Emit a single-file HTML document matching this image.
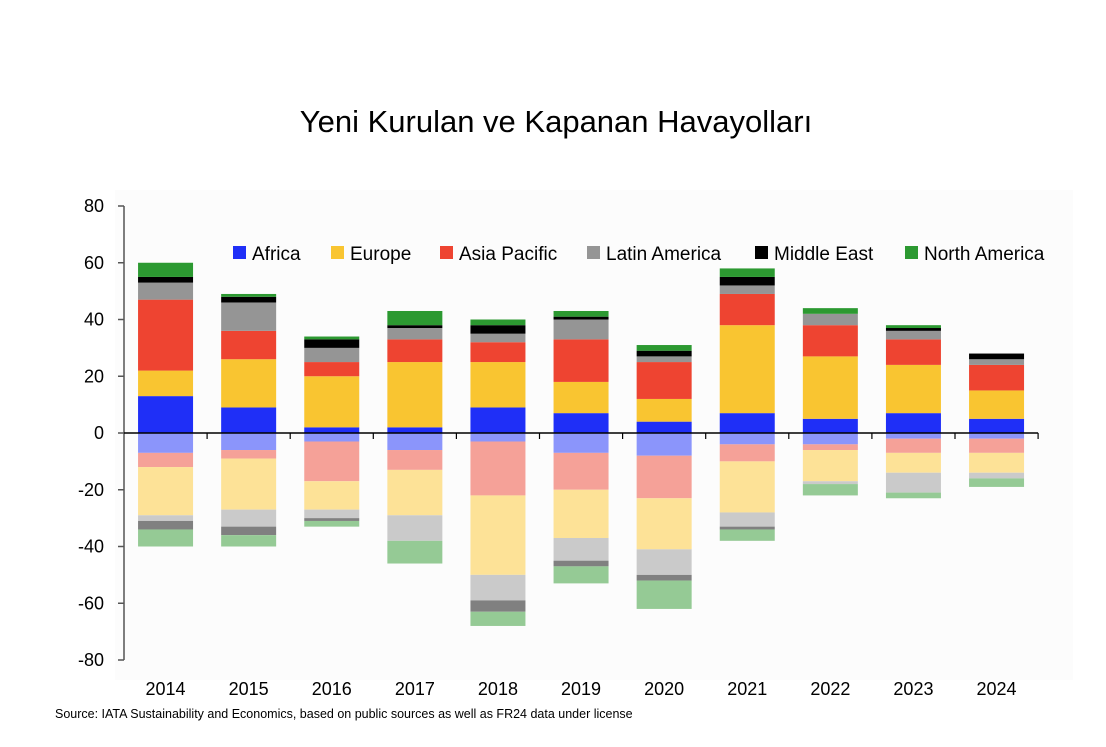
<!DOCTYPE html>
<html><head><meta charset="utf-8"><style>
body{margin:0;background:#fff;width:1106px;height:742px;overflow:hidden;font-family:"Liberation Sans",sans-serif}
svg text{font-family:"Liberation Sans",sans-serif}
</style></head><body>
<svg id="chart" width="1106" height="742" xmlns="http://www.w3.org/2000/svg">
<rect x="115" y="190" width="958" height="490" fill="#fcfcfc"/>
<text x="556" y="132" text-anchor="middle" font-size="31" fill="#000">Yeni Kurulan ve Kapanan Havayolları</text>
<g id="bars"></g><g id="axes"></g><g id="legend"></g>
<text x="55" y="718" font-size="12.5" fill="#000">Source: IATA Sustainability and Economics, based on public sources as well as FR24 data under license</text>
</svg>
<script>
const years=["2014","2015","2016","2017","2018","2019","2020","2021","2022","2023","2024"];
const series=["Africa","Europe","Asia Pacific","Latin America","Middle East","North America"];
const posAfrica=[13,9,2,2,9,7,4,7,5,7,5];
const posEurope=[9,17,18,23,16,11,8,31,22,17,10];
const posAsia=[25,10,5,8,7,15,13,11,11,9,9];
const posLatam=[6,10,5,4,3,7,2,3,4,3,2];
const posME=[2,2,3,1,3,1,2,3,0,1,2];
const posNA=[5,1,1,5,2,2,2,3,2,1,0];
const negAfrica=[7,6,3,6,3,7,8,4,4,2,2];
const negAsia=[5,3,14,7,19,13,15,6,2,5,5];
const negEurope=[17,18,10,16,28,17,18,18,11,7,7];
const negLatam=[2,6,3,9,9,8,9,5,1,7,2];
const negME=[3,3,1,0,4,2,2,1,0,0,0];
const negNA=[6,4,2,8,5,6,10,4,4,2,3];
const yTicks=[80,60,40,20,0,-20,-40,-60,-80];
const NS="http://www.w3.org/2000/svg";
const y=v=>433-v*2.8375;
const x0=124,band=83.1,bw=55;
const xc=i=>x0+band*(i+0.5);
function mk(t,a,p){const e=document.createElementNS(NS,t);for(const k in a)e.setAttribute(k,a[k]);p.appendChild(e);return e;}
const bars=document.getElementById('bars');
const posSets=[[posAfrica,"#1f2ff7","africa"],[posEurope,"#f9c531","europe"],[posAsia,"#ee4431","asia-pacific"],[posLatam,"#959595","latin-america"],[posME,"#000000","middle-east"],[posNA,"#2c9931","north-america"]];
const negSets=[[negAfrica,"#8b95fb","africa"],[negAsia,"#f5a198","asia-pacific"],[negEurope,"#fde297","europe"],[negLatam,"#cacaca","latin-america"],[negME,"#808080","middle-east"],[negNA,"#95ca95","north-america"]];
years.forEach((yr,i)=>{
  let c=0;
  posSets.forEach(([arr,col,nm])=>{const v=arr[i];if(!v){return;}
    const r=mk('rect',{x:xc(i)-bw/2,y:y(c+v),width:bw,height:y(c)-y(c+v),fill:col},bars);
    
    
    c+=v;});
  c=0;
  negSets.forEach(([arr,col,nm])=>{const v=arr[i];if(!v){return;}
    const r=mk('rect',{x:xc(i)-bw/2,y:y(c),width:bw,height:y(c-v)-y(c),fill:col},bars);
    
    
    c-=v;});
});
const ax=document.getElementById('axes');
const yl=mk('line',{x1:124,y1:y(80),x2:124,y2:y(-80),stroke:'#555','stroke-width':1.5},ax);


yTicks.forEach(t=>{
  const l=mk('line',{x1:118,x2:124,y1:y(t),y2:y(t),stroke:'#555','stroke-width':1.5},ax);
  
  
  const tx=mk('text',{x:104,y:y(t)+6,'text-anchor':'end','font-size':18,fill:'#000'},ax);
  tx.textContent=t;
  
  
});
const xl=mk('line',{x1:124,y1:y(0),x2:x0+band*years.length,y2:y(0),stroke:'#000','stroke-width':1.5},ax);


years.forEach((yr,i)=>{
  const l=mk('line',{x1:x0+band*(i+1),x2:x0+band*(i+1),y1:y(0),y2:y(0)+6,stroke:'#000','stroke-width':1.2},ax);
  
  
  const tx=mk('text',{x:xc(i),y:695,'text-anchor':'middle','font-size':18,fill:'#000'},ax);
  tx.textContent=yr;
  
  
});
const lg=document.getElementById('legend');
const lx=[233,331,440,587,755,905];
series.forEach((s,i)=>{
  const g=mk('g',{},lg);
  
  
  mk('rect',{x:lx[i],y:246,width:13,height:13,fill:posSets[i][1]},g);
  const t=mk('text',{x:lx[i]+19,y:260,'font-size':19,fill:'#000'},g);
  t.textContent=s;
});
</script>
</body></html>
